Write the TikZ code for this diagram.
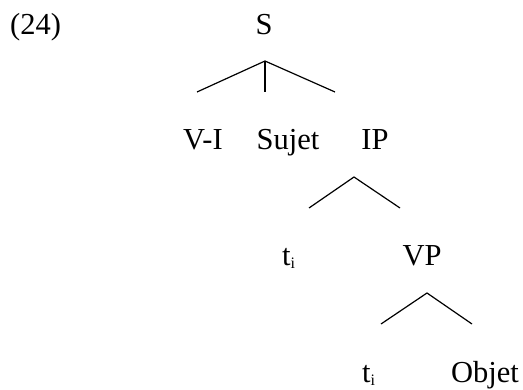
\documentclass[tikz,border=0pt]{standalone}
\usepackage{fontspec}
\setmainfont{Liberation Serif}
\newcommand{\subi}{\raisebox{-3pt}{\fontsize{16}{17}\selectfont i}}
\begin{document}
\begin{tikzpicture}[x=1pt,y=-1pt,
  lbl/.style={anchor=base,inner sep=0pt,font=\fontsize{30.5}{36}\selectfont},
  branch/.style={line width=1.2pt}]
\useasboundingbox (0,0) rectangle (523,390);
% labels
\node[lbl,anchor=base west] (num) at (10,35) {(24)};
\node[lbl] (S) at (264,35) {S};
\node[lbl] (VI) at (203,150) {V-I};
\node[lbl] (Suj) at (288,150) {Sujet};
\node[lbl] (IP) at (375,150) {IP};
\node[lbl,anchor=base west] (t1) at (282,266) {t\subi};
\node[lbl] (VP) at (422,266) {VP};
\node[lbl,anchor=base west] (t2) at (362,383) {t\subi};
\node[lbl] (Obj) at (485,383) {Objet};
% branch points
\coordinate (Sa) at (265,61);
\coordinate (Sl) at (197,92);
\coordinate (Sm) at (265,92);
\coordinate (Sr) at (335,92);
\coordinate (IPa) at (354,177);
\coordinate (IPl) at (309,208);
\coordinate (IPr) at (400,208);
\coordinate (VPa) at (427,293);
\coordinate (VPl) at (381,324);
\coordinate (VPr) at (472,324);
\draw[branch] (Sl) -- (Sa) -- (Sr);
\draw[branch] (Sa) -- (Sm);
\draw[branch] (IPl) -- (IPa) -- (IPr);
\draw[branch] (VPl) -- (VPa) -- (VPr);
\end{tikzpicture}
\end{document}
